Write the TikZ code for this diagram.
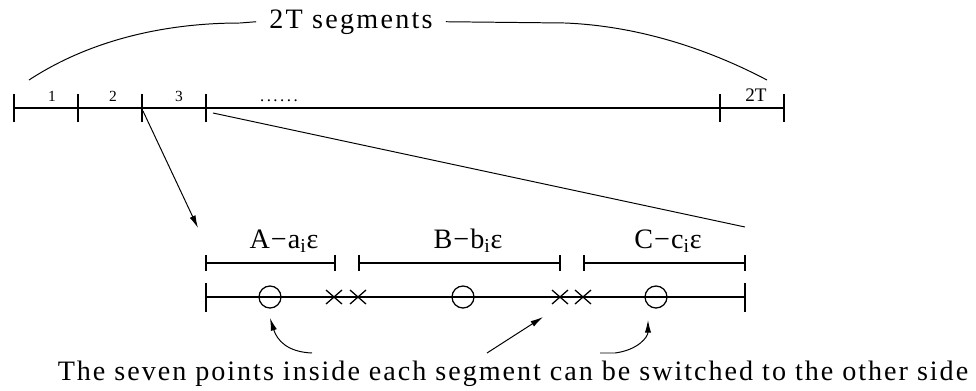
\documentclass[tikz,border=0pt]{standalone}
\usepackage{fontspec}
\setmainfont{Liberation Serif}
\usetikzlibrary{arrows.meta}

\begin{document}
\begin{tikzpicture}[x=0.025cm, y=-0.025cm, line width=0.9pt,
    mainline/.style={line width=1.4pt},
    thinline/.style={line width=0.7pt},
    pointer/.style={line width=0.7pt, -{Latex[length=9pt,width=4.5pt]}},
    numlabel/.style={font=\fontsize{11}{12}\selectfont, inner sep=0pt},
    toptext/.style={font=\fontsize{20}{22}\selectfont\addfontfeature{LetterSpace=8}, inner xsep=9pt, inner ysep=0pt},
    seglabel/.style={font=\fontsize{20}{22}\selectfont\addfontfeature{LetterSpace=4}, inner sep=0pt},
    notetext/.style={font=\fontsize{20}{22}\selectfont\addfontfeature{LetterSpace=7}, inner sep=0pt},
    point/.style={circle, draw, line width=0.9pt, minimum size=0.55cm, inner sep=0pt}]

    \useasboundingbox (0,0) rectangle (976,390);

    % The 2T segments
    \draw[mainline] (14,108) -- (784,108);
    \foreach \x in {14,78,142,206,720,784}
        \draw[mainline] (\x,94) -- (\x,122);
    \node[numlabel, anchor=base] (one) at (52,101) {1};
    \node[numlabel, anchor=base] (two) at (113,101) {2};
    \node[numlabel, anchor=base] (three) at (179,101) {3};
    \node[numlabel, font=\fontsize{12}{14}\selectfont\addfontfeature{LetterSpace=15}, anchor=base] (dots) at (279,101) {......};
    \node[numlabel, font=\fontsize{13.6}{15}\selectfont, anchor=base] (last) at (756,101) {2T};

    % Brace-like arc over all of them
    \node[toptext, anchor=base] (seg) at (351,28) {2T segments};
    \draw[thinline] (29,80) .. controls (90,40) and (165,23) .. (240,23) -- (seg.west);
    \draw[thinline] (seg.east) -- (565,23) .. controls (640,26) and (710,50) .. (767,80);

    % Zoom into one segment
    \coordinate (tickb) at (143,111);
    \coordinate (tickc) at (213,113);
    \coordinate (lowleft) at (198,228);
    \coordinate (lowright) at (745,227);
    \draw[pointer] (tickb) -- (lowleft);
    \draw[thinline] (tickc) -- (lowright);

    % Three sub-intervals
    \foreach \a/\b in {206/335, 359/560, 584/745} {
        \draw (\a,263) -- (\b,263);
        \draw (\a,255) -- (\a,271);
        \draw (\b,255) -- (\b,271);
    }
    \node[seglabel, anchor=base] (la) at (284,248) {A−a\textsubscript{i}ε};
    \node[seglabel, anchor=base] (lb) at (468,248) {B−b\textsubscript{i}ε};
    \node[seglabel, anchor=base] (lc) at (668,248) {C−c\textsubscript{i}ε};

    % The segment with its seven points
    \draw (206,297) -- (745,297);
    \draw (206,283) -- (206,312);
    \draw (745,283) -- (745,312);
    \node[point] (pa) at (270,297) {};
    \node[point] (pb) at (463,297) {};
    \node[point] (pc) at (656,297) {};
    \foreach \x in {334,358,560,583}
        \draw (\x-8,290) -- (\x+8,304) (\x-8,304) -- (\x+8,290);

    % Note and pointers
    \node[notetext, anchor=base] (note) at (513,380) {The seven points inside each segment can be switched to the other side};
    \coordinate (tailone) at (312,353);
    \coordinate (tailtwo) at (487,353);
    \coordinate (tailthree) at (600,353);
    \coordinate (headtwo) at (543,317);
    \draw[pointer] (tailone) .. controls (287,352) and (277,340) .. (pa.south |- 0,318);
    \draw[pointer] (tailtwo) -- (headtwo);
    \draw[pointer] (tailthree) -- (615,353) .. controls (638,350) and (648,337) .. (648,320);

\end{tikzpicture}
\end{document}
